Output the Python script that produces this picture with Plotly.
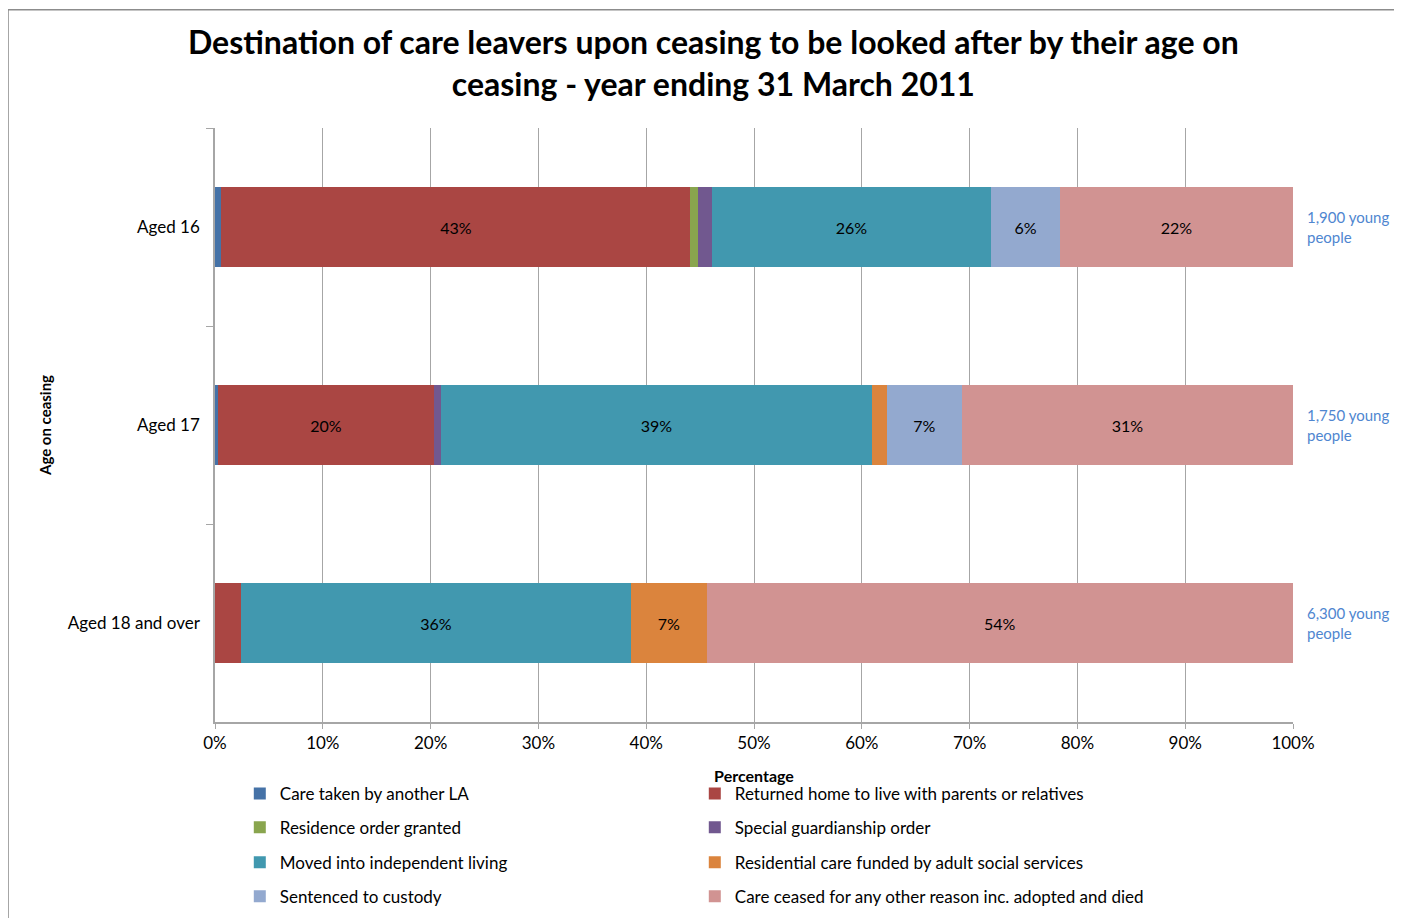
import plotly.graph_objects as go

# Care leavers by destination, % of each age group (year ending 31 March 2011)
ages = ["Aged 16", "Aged 17", "Aged 18 and over"]
group_sizes = ["1,900 young<br>people", "1,750 young<br>people", "6,300 young<br>people"]

destinations = [
    "Care taken by another LA",
    "Returned home to live with parents or relatives",
    "Residence order granted",
    "Special guardianship order",
    "Moved into independent living",
    "Residential care funded by adult social services",
    "Sentenced to custody",
    "Care ceased for any other reason inc. adopted and died",
]

care_taken_la = [0.6, 0.3, 0.0]
returned_home = [43.5, 20.0, 2.4]
residence_order = [0.7, 0.0, 0.0]
special_guardianship = [1.3, 0.7, 0.0]
independent_living = [25.9, 39.9, 36.2]
residential_adult = [0.0, 1.4, 7.0]
custody = [6.4, 7.0, 0.0]
other_reason = [21.6, 30.7, 54.4]

# labels as printed on the bars
returned_home_lbl = ["43%", "20%", ""]
independent_living_lbl = ["26%", "39%", "36%"]
residential_adult_lbl = ["", "", "7%"]
custody_lbl = ["6%", "7%", ""]
other_reason_lbl = ["22%", "31%", "54%"]
blank = ["", "", ""]

series = [
    (care_taken_la, blank, "#4572A7"),
    (returned_home, returned_home_lbl, "#AA4643"),
    (residence_order, blank, "#89A54E"),
    (special_guardianship, blank, "#71588F"),
    (independent_living, independent_living_lbl, "#4198AF"),
    (residential_adult, residential_adult_lbl, "#DB843D"),
    (custody, custody_lbl, "#93A9CF"),
    (other_reason, other_reason_lbl, "#D19392"),
]

FONT = "Lato, 'Open Sans', sans-serif"
legend_names = ["legend", "legend2", "legend3", "legend4"]

fig = go.Figure()
for i, (name, (vals, labels, color)) in enumerate(zip(destinations, series)):
    fig.add_trace(go.Bar(
        y=ages, x=vals, name=name, orientation="h",
        marker=dict(color=color, line=dict(width=0)),
        text=labels, textposition="inside", insidetextanchor="middle",
        textangle=0, constraintext="none",
        textfont=dict(color="#000000", size=16, family=FONT),
        legend=legend_names[i // 2],
        hovertemplate="%{y}: %{x}%<extra>" + name + "</extra>",
    ))

# group size notes to the right of each bar
for age, note in zip(ages, group_sizes):
    fig.add_annotation(
        x=1.0, xref="paper", y=age, yref="y", xanchor="left", xshift=12,
        text=note, showarrow=False, align="left",
        font=dict(color="#4F86D0", size=15, family=FONT),
    )

# outer chart border (left and top edges visible)
fig.add_shape(type="line", xref="paper", yref="paper",
              x0=-0.192, x1=-0.192, y0=1.199, y1=-0.4,
              line=dict(color="#8C8C8C", width=1.5))
fig.add_shape(type="line", xref="paper", yref="paper",
              x0=-0.192, x1=1.2, y0=1.199, y1=1.199,
              line=dict(color="#8C8C8C", width=1.5))

legend_rows_y = [-0.121, -0.178, -0.237, -0.294]
legend_cfg = {}
for lname, ly in zip(legend_names, legend_rows_y):
    legend_cfg[lname] = dict(
        orientation="h", x=0.023, xanchor="left", y=ly, yanchor="middle",
        entrywidth=410, entrywidthmode="pixels",
        font=dict(size=17, color="#000000", family=FONT),
        bgcolor="rgba(0,0,0,0)", itemclick=False, itemdoubleclick=False,
        traceorder="normal",
    )

fig.update_layout(
    barmode="stack",
    bargap=0.596,
    width=1394, height=910,
    paper_bgcolor="#FFFFFF", plot_bgcolor="#FFFFFF",
    font=dict(family=FONT, color="#000000"),
    margin=dict(l=207, r=109, t=120, b=196, autoexpand=False),
    title=dict(
        text="<b>Destination of care leavers upon ceasing to be looked after by their age on<br>"
             "ceasing - year ending 31 March 2011</b>",
        x=0.506, xanchor="center", y=0.949, yanchor="middle",
        font=dict(size=32, color="#000000", family=FONT),
    ),
    showlegend=True,
    **legend_cfg,
)

fig.update_xaxes(
    range=[0, 100], dtick=10, ticksuffix="%",
    showgrid=True, gridcolor="#A6A6A6", gridwidth=1,
    showline=True, linecolor="#A6A6A6", linewidth=1.5,
    ticks="outside", ticklen=5, tickcolor="#A6A6A6",
    tickfont=dict(size=17, color="#000000", family=FONT),
    zeroline=False,
    title=dict(text="<b>Percentage</b>", standoff=19,
               font=dict(size=16, color="#000000", family=FONT)),
)
fig.update_yaxes(
    autorange="reversed", tickson="boundaries",
    showline=True, linecolor="#A6A6A6", linewidth=1.5,
    ticks="outside", ticklen=7, tickcolor="#A6A6A6",
    tickfont=dict(size=17, color="#000000", family=FONT),
    ticklabelstandoff=10,
    title=dict(text="<b>Age on ceasing</b>", standoff=13,
               font=dict(size=15, color="#000000", family=FONT)),
)

fig.write_html("out.html")
